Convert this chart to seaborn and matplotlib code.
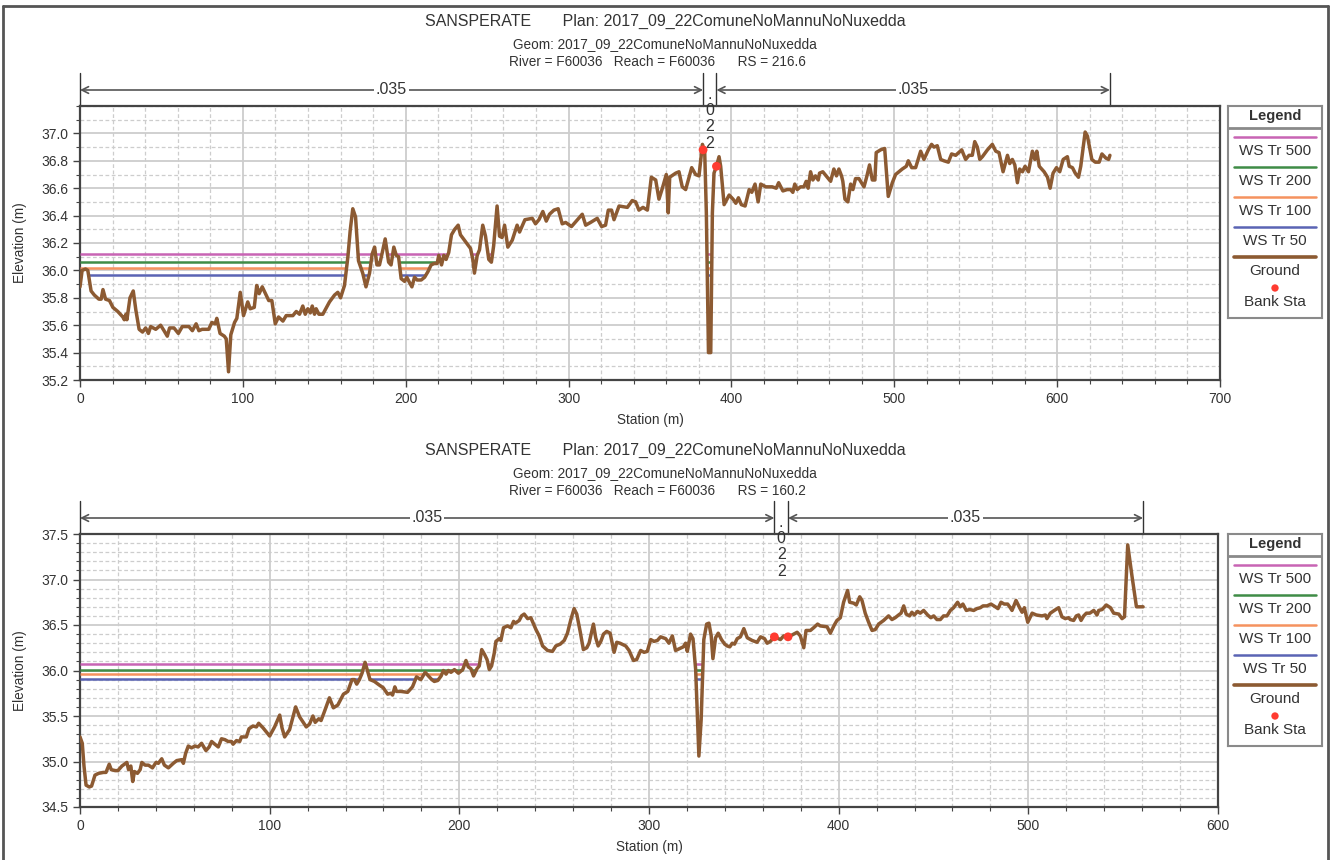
import numpy as np
import pandas as pd
import matplotlib
matplotlib.use("Agg")
import matplotlib.pyplot as plt
import seaborn as sns
from matplotlib.transforms import blended_transform_factory
from matplotlib.lines import Line2D
from matplotlib.ticker import MultipleLocator

# ---------------- DATA ----------------
river = "F60036"
reach = "F60036"
project = "SANSPERATE"
plan = "2017_09_22ComuneNoMannuNoNuxedda"
geom = "2017_09_22ComuneNoMannuNoNuxedda"

ws_names = ["WS Tr 500", "WS Tr 200", "WS Tr 100", "WS Tr 50"]
ws_colors = ["#C864B4", "#3F8C46", "#F5925F", "#5A64B4"]

# Section 1 : RS = 216.6
rs1 = "216.6"
st1 = [0, 1.3, 3.4, 4.8, 6.8, 8.8, 11.6, 13.0, 14.1, 15.7, 18.1, 20.2, 23.2, 26.3, 27.2, 28.2, 28.8,
       30.7, 32.7, 34.3, 36.3, 38.4, 40.3, 42.0, 43.4, 46.5, 49.5, 51.6, 53.6, 55.0, 57.7, 60.4,
       62.8, 66.9, 69.0, 71.3, 73.0, 75.0, 77.0, 79.0, 81.0, 83.0, 84.0, 86.0, 88.6, 89.8, 91.2,
       92.6, 94.9, 96.3, 98.4, 100.4, 103.0, 104.5, 107.0, 108.5, 110.0, 111.9, 113.9, 115.9,
       117.8, 119.9, 121.9, 124.6, 126.6, 130.7, 132.8, 134.8, 136.8, 138.3, 139.9, 141.4, 142.6,
       144.0, 145.0, 146.7, 149.1, 153.2, 156.3, 158.3, 160.0, 162.4, 164.5, 165.9, 167.5, 169.2,
       171.0, 173.6, 175.6, 177.8, 179.4, 180.9, 182.3, 183.9, 185.6, 187.4, 189.5, 191.0, 192.7,
       194.2, 195.6, 197.2, 199.3, 200.7, 202.4, 203.8, 205.4, 207.0, 209.5, 211.6, 213.6, 215.6,
       217.5, 219.3, 220.3, 222.0, 223.4, 224.8, 226.4, 228.1, 230.1, 232.2, 233.6, 236.7, 239.8,
       241.2, 242.2, 243.9, 245.3, 247.3, 249.0, 251.0, 252.6, 254.0, 256.1, 257.6, 259.2, 260.7,
       262.7, 265.4, 268.4, 269.9, 273.2, 277.7, 279.7, 281.8, 284.2, 286.3, 288.3, 291.0, 293.6,
       296.1, 298.2, 301.8, 304.7, 308.4, 310.5, 313.5, 317.6, 320.3, 322.7, 324.4, 326.4, 327.9,
       331.0, 336.1, 339.1, 341.2, 343.2, 345.7, 348.4, 350.8, 353.5, 355.5, 357.6, 360.0, 361.2,
       362.1, 365.8, 367.8, 369.8, 371.9, 375.6, 378.0, 380.1, 382.2, 383.6, 384.6, 385.9, 387.3,
       388.3, 389.3, 390.8, 392.4, 393.4, 395.5, 398.6, 401.0, 402.7, 404.3, 406.1, 408.4, 410.9,
       412.5, 414.5, 416.4, 418.0, 421.1, 425.0, 427.5, 429.0, 431.6, 434.2, 436.3, 437.7, 438.9,
       440.4, 442.4, 444.5, 445.9, 447.1, 448.6, 450.0, 451.6, 453.3, 454.1, 456.1, 458.8, 460.9,
       462.9, 464.5, 466.0, 467.6, 468.4, 469.7, 471.5, 473.2, 474.6, 476.2, 478.3, 481.4, 483.0,
       484.8, 486.5, 488.1, 488.9, 491.6, 494.1, 496.3, 498.8, 500.8, 504.9, 507.4, 508.6, 510.7,
       513.1, 516.2, 518.2, 520.9, 522.9, 524.4, 526.4, 528.5, 530.5, 533.2, 535.2, 537.7, 541.4,
       543.8, 545.9, 547.9, 549.4, 551.0, 552.5, 554.1, 557.2, 560.2, 562.3, 564.3, 566.8, 569.5,
       570.9, 572.5, 574.0, 575.6, 577.0, 578.7, 580.3, 582.4, 584.8, 586.3, 587.5, 589.0, 592.0,
       594.1, 595.7, 597.5, 599.6, 601.6, 603.7, 606.3, 607.4, 609.4, 611.1, 613.1, 614.5, 617.2,
       618.6, 621.3, 623.4, 625.8, 627.5, 629.9, 631.6, 632.4]
el1 = [35.88, 36.00, 36.01, 36.00, 35.85, 35.82, 35.79, 35.79, 35.86, 35.79, 35.78, 35.73, 35.70,
       35.66, 35.64, 35.68, 35.64, 35.80, 35.85, 35.71, 35.57, 35.55, 35.58, 35.54, 35.59, 35.57,
       35.60, 35.56, 35.52, 35.58, 35.58, 35.54, 35.59, 35.59, 35.56, 35.61, 35.56, 35.57, 35.57,
       35.57, 35.62, 35.61, 35.65, 35.54, 35.52, 35.50, 35.26, 35.53, 35.62, 35.65, 35.84, 35.67,
       35.77, 35.72, 35.73, 35.89, 35.83, 35.88, 35.83, 35.78, 35.78, 35.61, 35.66, 35.63, 35.67,
       35.67, 35.70, 35.68, 35.74, 35.68, 35.72, 35.69, 35.74, 35.68, 35.72, 35.68, 35.68, 35.77,
       35.82, 35.84, 35.80, 35.89, 36.10, 36.29, 36.45, 36.39, 36.07, 35.98, 35.88, 35.98, 36.12,
       36.17, 36.04, 36.04, 36.13, 36.23, 36.06, 36.04, 36.17, 36.11, 36.10, 35.94, 35.92, 35.95,
       35.91, 35.88, 35.95, 35.93, 35.93, 35.95, 35.99, 36.04, 36.05, 36.05, 36.11, 36.04, 36.11,
       36.08, 36.13, 36.26, 36.30, 36.33, 36.26, 36.21, 36.16, 36.08, 35.98, 36.11, 36.15, 36.33,
       36.25, 36.08, 36.06, 36.18, 36.47, 36.25, 36.24, 36.33, 36.17, 36.22, 36.33, 36.28, 36.37,
       36.38, 36.34, 36.37, 36.43, 36.36, 36.41, 36.44, 36.45, 36.34, 36.35, 36.32, 36.36, 36.41,
       36.33, 36.35, 36.38, 36.32, 36.33, 36.44, 36.44, 36.37, 36.47, 36.46, 36.51, 36.50, 36.44,
       36.46, 36.44, 36.68, 36.66, 36.52, 36.60, 36.70, 36.42, 36.68, 36.71, 36.72, 36.61, 36.59,
       36.75, 36.70, 36.69, 36.92, 36.86, 36.42, 35.40, 35.40, 36.42, 36.71, 36.76, 36.83, 36.76,
       36.48, 36.55, 36.52, 36.49, 36.53, 36.48, 36.47, 36.59, 36.57, 36.63, 36.50, 36.63, 36.61,
       36.61, 36.60, 36.64, 36.58, 36.59, 36.59, 36.57, 36.63, 36.59, 36.61, 36.61, 36.65, 36.60,
       36.72, 36.66, 36.69, 36.66, 36.71, 36.72, 36.68, 36.65, 36.74, 36.69, 36.74, 36.69, 36.65,
       36.52, 36.50, 36.63, 36.59, 36.67, 36.67, 36.61, 36.68, 36.77, 36.66, 36.66, 36.86, 36.88,
       36.89, 36.54, 36.64, 36.70, 36.74, 36.76, 36.80, 36.75, 36.75, 36.87, 36.81, 36.88, 36.92,
       36.90, 36.91, 36.81, 36.80, 36.79, 36.85, 36.84, 36.88, 36.81, 36.84, 36.84, 36.94, 36.90,
       36.81, 36.83, 36.88, 36.92, 36.87, 36.86, 36.72, 36.84, 36.78, 36.81, 36.77, 36.64, 36.74,
       36.72, 36.76, 36.72, 36.87, 36.81, 36.87, 36.76, 36.72, 36.68, 36.60, 36.71, 36.75, 36.72,
       36.81, 36.83, 36.76, 36.75, 36.71, 36.68, 36.76, 37.01, 36.98, 36.81, 36.79, 36.79, 36.85,
       36.82, 36.81, 36.84]
bank_st1 = [382.6, 390.8]
bank_el1 = [36.88, 36.76]
ws1 = [36.12, 36.06, 36.015, 35.963]
n1 = [".035", ".022", ".035"]

# Section 2 : RS = 160.2
rs2 = "160.2"
st2 = [0, 1.2, 2.1, 3.2, 4.9, 6.1, 7.9, 9.8, 12.4, 13.7, 15.4, 16.5, 18.6, 20.0, 22.1, 24.7, 25.6,
       26.8, 27.8, 28.7, 30.3, 31.7, 32.6, 34.3, 36.1, 38.2, 40.1, 41.3, 43.1, 44.5, 46.6, 49.2,
       51.0, 53.6, 54.5, 55.7, 57.1, 58.8, 60.6, 62.3, 64.1, 66.4, 68.1, 69.4, 71.1, 72.9, 74.6,
       76.4, 78.1, 79.9, 80.7, 82.5, 84.2, 85.1, 87.7, 89.1, 91.2, 93.0, 94.2, 96.5, 100.0, 102.6,
       105.3, 106.5, 107.9, 110.5, 113.7, 115.8, 119.3, 121.0, 122.8, 124.0, 125.9, 127.1, 128.9,
       131.5, 133.6, 135.9, 138.9, 141.2, 143.4, 144.7, 145.9, 147.3, 148.7, 150.3, 151.7, 152.9,
       155.2, 157.8, 159.9, 162.2, 163.9, 164.8, 166.0, 166.9, 169.2, 172.7, 175.3, 177.4, 179.7,
       182.0, 183.7, 185.5, 186.8, 188.6, 190.4, 191.6, 193.0, 194.2, 195.6, 197.4, 199.5, 201.8,
       203.5, 204.7, 206.1, 207.5, 209.3, 210.5, 211.8, 213.2, 214.6, 215.8, 217.0, 218.4, 219.3,
       221.1, 221.9, 223.3, 225.4, 227.2, 228.6, 229.5, 231.6, 232.8, 234.2, 236.0, 237.7, 240.4,
       242.1, 243.9, 246.5, 249.1, 250.9, 253.2, 255.3, 257.0, 258.8, 260.5, 261.9, 263.7, 265.4,
       267.2, 268.4, 270.7, 271.9, 273.2, 274.6, 276.0, 277.7, 279.5, 281.6, 283.0, 284.7, 287.7,
       289.5, 291.8, 293.5, 295.6, 297.4, 299.1, 300.9, 302.6, 304.4, 306.1, 308.8, 310.5, 312.3,
       314.0, 316.1, 318.1, 319.3, 320.2, 321.9, 323.2, 324.6, 326.3, 327.5, 328.9, 330.4, 331.6,
       332.8, 333.7, 335.1, 336.5, 338.2, 339.9, 341.2, 342.6, 343.9, 345.1, 346.5, 348.2, 350.0,
       351.8, 354.4, 357.0, 358.8, 360.9, 362.3, 364.0, 366.1, 369.3, 371.0, 373.3, 375.4, 378.1,
       379.8, 381.6, 382.8, 385.1, 386.8, 388.9, 390.3, 393.9, 395.6, 397.7, 399.1, 400.9, 402.6,
       404.7, 405.8, 407.9, 409.3, 411.1, 412.3, 414.0, 415.8, 417.6, 419.3, 421.1, 423.7, 426.3,
       428.1, 429.8, 431.6, 432.9, 434.3, 435.6, 437.4, 438.6, 439.9, 441.6, 443.0, 444.8, 446.9,
       448.6, 450.1, 451.8, 453.6, 455.3, 457.1, 458.9, 460.6, 462.7, 464.1, 465.5, 467.3, 469.1,
       471.2, 472.9, 474.7, 476.1, 478.2, 480.3, 482.6, 484.0, 485.6, 487.3, 489.1, 490.5, 491.4,
       493.5, 495.4, 496.7, 497.9, 499.7, 502.0, 504.2, 507.2, 509.0, 509.8, 511.6, 513.7, 516.0,
       517.7, 519.5, 521.2, 522.1, 523.9, 525.3, 526.5, 527.8, 529.2, 530.6, 532.4, 534.5, 536.2,
       537.1, 538.9, 541.1, 543.3, 545.0, 547.7, 549.4, 550.7, 552.4, 554.7, 557.0, 560.5]
el2 = [35.27, 35.20, 34.95, 34.74, 34.72, 34.73, 34.85, 34.87, 34.88, 34.88, 34.97, 34.91, 34.90,
       34.90, 34.95, 34.99, 34.91, 34.95, 34.78, 34.89, 34.87, 34.91, 34.99, 34.96, 34.96, 34.93,
       34.99, 34.98, 35.03, 34.96, 34.93, 34.98, 35.01, 35.02, 34.98, 35.09, 35.17, 35.15, 35.17,
       35.16, 35.20, 35.12, 35.16, 35.22, 35.19, 35.16, 35.25, 35.24, 35.22, 35.22, 35.19, 35.23,
       35.22, 35.27, 35.27, 35.36, 35.39, 35.38, 35.42, 35.37, 35.28, 35.38, 35.51, 35.37, 35.27,
       35.35, 35.60, 35.49, 35.38, 35.41, 35.50, 35.43, 35.47, 35.45, 35.55, 35.70, 35.59, 35.62,
       35.74, 35.77, 35.90, 35.90, 35.85, 35.90, 35.97, 36.09, 35.99, 35.90, 35.88, 35.84, 35.81,
       35.74, 35.75, 35.73, 35.82, 35.77, 35.77, 35.76, 35.82, 35.93, 35.90, 35.98, 35.94, 35.90,
       35.88, 35.89, 35.94, 36.00, 35.96, 36.00, 35.98, 36.01, 35.97, 36.01, 36.11, 36.04, 36.02,
       35.94, 36.02, 36.05, 36.23, 36.18, 36.12, 36.01, 36.05, 36.19, 36.32, 36.35, 36.33, 36.47,
       36.49, 36.47, 36.54, 36.52, 36.55, 36.60, 36.62, 36.57, 36.58, 36.45, 36.38, 36.27, 36.22,
       36.21, 36.27, 36.29, 36.33, 36.41, 36.56, 36.68, 36.62, 36.43, 36.23, 36.25, 36.30, 36.51,
       36.36, 36.27, 36.32, 36.40, 36.43, 36.41, 36.20, 36.31, 36.30, 36.27, 36.22, 36.11, 36.12,
       36.22, 36.20, 36.21, 36.34, 36.32, 36.33, 36.37, 36.35, 36.30, 36.38, 36.22, 36.24, 36.26,
       36.30, 36.21, 36.40, 36.35, 36.01, 35.06, 35.46, 36.34, 36.51, 36.52, 36.38, 36.13, 36.36,
       36.41, 36.34, 36.29, 36.27, 36.26, 36.30, 36.29, 36.35, 36.37, 36.46, 36.36, 36.33, 36.31,
       36.37, 36.35, 36.30, 36.32, 36.37, 36.34, 36.38, 36.37, 36.39, 36.42, 36.38, 36.25, 36.44,
       36.44, 36.47, 36.51, 36.49, 36.48, 36.41, 36.50, 36.55, 36.58, 36.75, 36.88, 36.75, 36.74,
       36.72, 36.81, 36.77, 36.63, 36.53, 36.44, 36.45, 36.51, 36.55, 36.60, 36.56, 36.58, 36.61,
       36.63, 36.71, 36.62, 36.60, 36.64, 36.61, 36.65, 36.63, 36.66, 36.61, 36.58, 36.60, 36.56,
       36.56, 36.60, 36.60, 36.66, 36.69, 36.75, 36.70, 36.73, 36.66, 36.67, 36.66, 36.68, 36.69,
       36.71, 36.71, 36.73, 36.70, 36.68, 36.75, 36.73, 36.73, 36.69, 36.66, 36.77, 36.69, 36.64,
       36.69, 36.53, 36.63, 36.61, 36.60, 36.61, 36.57, 36.63, 36.66, 36.69, 36.59, 36.57, 36.58,
       36.56, 36.55, 36.60, 36.61, 36.55, 36.60, 36.63, 36.63, 36.66, 36.61, 36.66, 36.67, 36.72,
       36.69, 36.63, 36.62, 36.57, 36.59, 37.38, 37.03, 36.70, 36.70]
bank_st2 = [366.1, 373.3]
bank_el2 = [36.37, 36.37]
ws2 = [36.07, 36.01, 35.96, 35.905]
n2 = [".035", ".022", ".035"]

# ---------------- STYLE ----------------
sns.set_theme(style="white")
plt.rcParams['font.family'] = ['Liberation Sans', 'DejaVu Sans']

GROUND = "#8C5A32"
BANK = "#FF3B30"
GRID = "#CDCDCD"
TXT = "#333333"

W, H = 1330, 860
fig = plt.figure(figsize=(W / 100, H / 100), dpi=100)


def fx(px):
    return px / W


def fy(py):
    return 1 - py / H


def wet_intervals(s, g, level):
    out = []
    for i in range(len(s) - 1):
        x0, x1, y0, y1 = s[i], s[i + 1], g[i], g[i + 1]
        if y0 >= level and y1 >= level:
            continue
        if y0 < level and y1 < level:
            a, b = x0, x1
        else:
            xc = x0 + (level - y0) * (x1 - x0) / (y1 - y0)
            a, b = (x0, xc) if y0 < level else (xc, x1)
        if out and abs(out[-1][1] - a) < 1e-9:
            out[-1][1] = b
        else:
            out.append([a, b])
    return out


def panel(top_px, bot_px, right_px, st, el, bst, bel, ws, nvals, xmax, ymin, ymax, ymaj, ytop_tick, rs,
          title_px):
    ax = fig.add_axes([fx(80), fy(bot_px), fx(right_px - 80), (bot_px - top_px) / H])
    ax.set_xlim(0, xmax)
    ax.set_ylim(ymin, ymax)
    ax.xaxis.set_major_locator(MultipleLocator(100))
    ax.xaxis.set_minor_locator(MultipleLocator(20))
    ax.set_yticks(np.round(np.arange(ymin, ytop_tick + 1e-6, ymaj), 2))
    ax.yaxis.set_minor_locator(MultipleLocator(0.1))
    ax.yaxis.set_major_formatter(matplotlib.ticker.FormatStrFormatter('%.1f'))
    ax.grid(which='major', color=GRID, lw=1.3, ls='-', zorder=0)
    ax.grid(which='minor', color=GRID, lw=0.9, ls=(0, (3, 2)), zorder=0)
    ax.set_axisbelow(True)
    ax.tick_params(which='both', direction='out', bottom=True, left=True, colors='#444',
                   labelcolor=TXT, labelsize=10)
    ax.tick_params(which='major', length=5, width=1)
    ax.tick_params(which='minor', length=3, width=0.8)
    for sp in ax.spines.values():
        sp.set_color('#444')
        sp.set_linewidth(1.6)

    # water surfaces
    for lev, col in zip(ws, ws_colors):
        ints = wet_intervals(st, el, lev)
        if ints:
            ints = np.array(ints)
            ax.hlines(np.full(len(ints), lev), ints[:, 0], ints[:, 1], color=col, lw=1.8, zorder=3)

    df = pd.DataFrame({"Station": st, "Elevation": el})
    sns.lineplot(data=df, x="Station", y="Elevation", ax=ax, color=GROUND, lw=2.5,
                 sort=False, estimator=None, zorder=4)
    sns.scatterplot(x=bst, y=bel, ax=ax, color=BANK, s=40, edgecolor='none', zorder=5)
    ax.set_xlabel("")
    ax.set_ylabel("")

    # n-values
    tr = blended_transform_factory(ax.transData, ax.transAxes)
    h = bot_px - top_px
    y_arrow = (bot_px - (top_px - 16)) / h
    y_vtop = (bot_px - (top_px - 33)) / h
    edges = [0, bst[0], bst[1], st[-1]]
    for x in edges:
        ax.plot([x, x], [1.0, y_vtop], transform=tr, color='#333', lw=1, clip_on=False)
    for (x0, x1), nv in zip([(edges[0], edges[1]), (edges[2], edges[3])], [nvals[0], nvals[2]]):
        ax.annotate('', xy=(x1, y_arrow), xytext=(x0, y_arrow), xycoords=tr, textcoords=tr,
                    arrowprops=dict(arrowstyle='<->', color='#555', lw=1.2, shrinkA=0, shrinkB=0,
                                    mutation_scale=12),
                    annotation_clip=False)
        ax.text((x0 + x1) / 2, y_arrow, nv, transform=tr, ha='center', va='center', fontsize=11.5,
                color=TXT, bbox=dict(boxstyle='square,pad=0.1', fc='white', ec='none'), clip_on=False)
    ax.text((edges[1] + edges[2]) / 2, (bot_px - (top_px - 19)) / h, "\n".join(nvals[1]),
            transform=tr, ha='center', va='top', fontsize=11.5, color=TXT, linespacing=1.1,
            clip_on=False, zorder=6)

    # titles
    t0 = title_px
    fig.text(0.5, fy(t0), f"{project}       Plan: {plan}", ha='center', va='center', fontsize=11.5,
             color=TXT)
    fig.text(0.5, fy(t0 + 23), f"Geom: {geom}", ha='center', va='center', fontsize=9.8, color=TXT)
    fig.text(fx(657), fy(t0 + 41), f"River = {river}   Reach = {reach}      RS = {rs}", ha='center',
             va='center', fontsize=9.8, color=TXT)
    fig.text(fx((80 + right_px) / 2), fy(bot_px + 40), "Station (m)", ha='center', va='center',
             fontsize=9.8, color=TXT)
    fig.text(fx(20), fy((top_px + bot_px) / 2), "Elevation (m)", ha='center', va='center',
             rotation=90, fontsize=9.8, color=TXT)

    # legend box
    lax = fig.add_axes([fx(1228), fy(top_px + 212), fx(94), 212 / H])
    lax.set_xlim(0, 94)
    lax.set_ylim(212, 0)
    lax.set_xticks([])
    lax.set_yticks([])
    for sp in lax.spines.values():
        sp.set_color('#8A8A8A')
        sp.set_linewidth(1.5)
    lax.text(47, 10, "Legend", ha='center', va='center', fontsize=10.5, fontweight='bold', color=TXT)
    lax.plot([0, 94], [22, 22], color='#8A8A8A', lw=2)
    ys = [31, 61, 91, 121]
    for yl, col, name in zip(ys, ws_colors, ws_names):
        lax.plot([6, 88], [yl, yl], color=col, lw=1.8)
        lax.text(47, yl + 14, name, ha='center', va='center', fontsize=11, color=TXT)
    lax.plot([6, 88], [151, 151], color=GROUND, lw=2.6)
    lax.text(47, 165, "Ground", ha='center', va='center', fontsize=11, color=TXT)
    lax.scatter([47], [182], color=BANK, s=28, edgecolor='none')
    lax.text(47, 196, "Bank Sta", ha='center', va='center', fontsize=11, color=TXT)
    return ax


panel(106, 380, 1220, st1, el1, bank_st1, bank_el1, ws1, n1, 700, 35.2, 37.2, 0.2, 37.0, rs1, 21)
panel(534, 807, 1218, st2, el2, bank_st2, bank_el2, ws2, n2, 600, 34.5, 37.5, 0.5, 37.5, rs2, 450)

# outer frame
for xs, ys_ in [([fx(3), fx(3)], [0, fy(6)]), ([fx(3), fx(1328)], [fy(6), fy(6)]),
                ([fx(1328), fx(1328)], [fy(6), 0])]:
    fig.add_artist(Line2D(xs, ys_, color='#555', lw=2))

fig.savefig("out.png", dpi=100, facecolor='white')
